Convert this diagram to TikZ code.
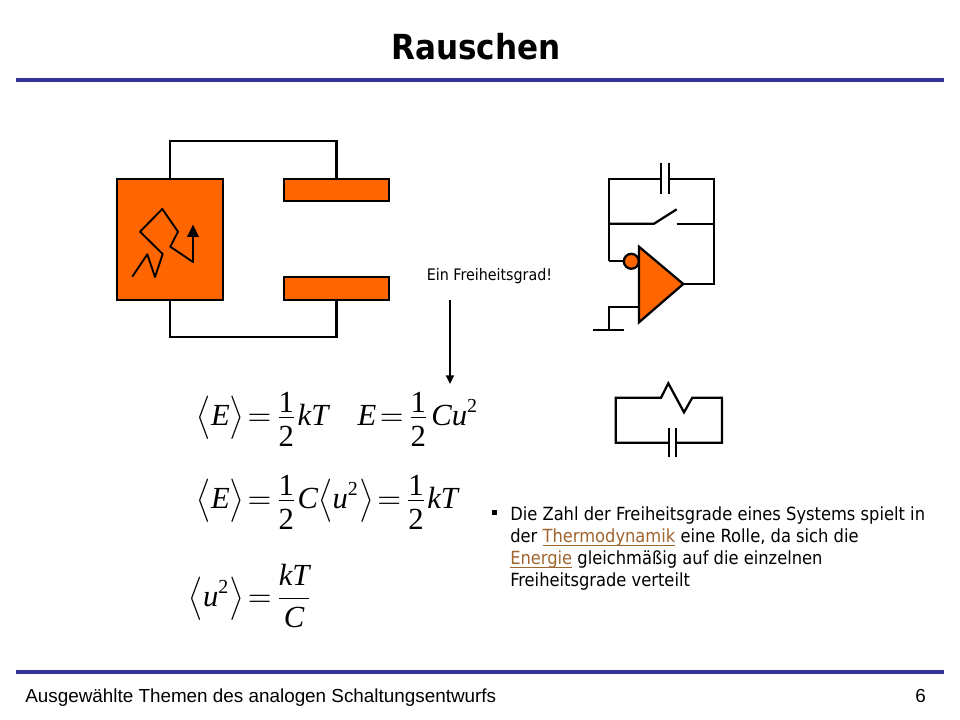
\documentclass[tikz,border=0pt]{standalone}
\usepackage{fontspec}
\usepackage{amsmath}
\usepackage{graphicx}
\setmainfont{Liberation Sans}
\newfontfamily\tahomalike{DejaVu Sans Condensed}
\newfontfamily\mathserif{Liberation Serif}
\usetikzlibrary{arrows.meta}
\definecolor{rulecol}{HTML}{333399}
\definecolor{fillor}{HTML}{FF6600}
\definecolor{linkcol}{HTML}{A0652F}
\newcommand{\mi}[1]{\mbox{\mathserif\fontsize{10}{12}\selectfont\itshape #1}}
\newcommand{\mr}[1]{\mbox{\mathserif\fontsize{10}{12}\selectfont #1}}
\newcommand{\sq}{^{\mbox{\mathserif\fontsize{6.5}{7}\selectfont 2}}}
\newcommand{\half}{{\textstyle\frac{\mr{1}}{\rule{0pt}{9pt}\mr{2}}}}
\newcommand{\lb}{\mathopen{\vcenter{\hbox{\scalebox{1}[1.18]{$\big\langle$}}}}}
\newcommand{\rb}{\mathclose{\vcenter{\hbox{\scalebox{1}[1.18]{$\big\rangle$}}}}}
\newcommand{\lnk}[1]{\textcolor{linkcol}{\underline{\smash{#1}}}}
\tikzset{
  wire/.style={draw=black,line width=1.7pt,line join=miter},
  thinwire/.style={draw=black,line width=1.4pt,line join=round},
  block/.style={draw=black,fill=fillor,line width=1.7pt,inner sep=0pt,outer sep=0pt},
  rulebar/.style={draw=rulecol,line width=3pt},
  eq/.style={anchor=base west,inner sep=0pt,scale=2.3},
  body/.style={font=\tahomalike\fontsize{13.6}{16.7}\selectfont,inner sep=0pt},
}
\begin{document}
\thickmuskip=2mu
\begin{tikzpicture}[x=0.75pt,y=-0.75pt]
\useasboundingbox (0,0) rectangle (960,720);
% title and rules
\node[inner sep=0pt,font=\tahomalike\bfseries\fontsize{25.9}{30}\selectfont] (title) at (476,47) {Rauschen};
\coordinate (r1a) at (16,80); \coordinate (r1b) at (944,80);
\coordinate (r2a) at (16,672); \coordinate (r2b) at (944,672);
\draw[rulebar] (r1a) -- (r1b);
\draw[rulebar] (r2a) -- (r2b);
\node[anchor=base west,inner sep=0pt,font=\fontsize{14.15}{16}\selectfont] (foot) at (25,702) {Ausgewählte Themen des analogen Schaltungsentwurfs};
\node[anchor=base east,inner sep=0pt,font=\fontsize{14.15}{16}\selectfont] (pagenum) at (926,702) {6};
% left block
\node[block,minimum width=79.5pt,minimum height=90.75pt] (box) at (170,239.5) {};
\node[block,minimum width=78.75pt,minimum height=16.5pt] (plateA) at (336.5,190) {};
\node[block,minimum width=78.75pt,minimum height=17.25pt] (plateB) at (336.5,288.5) {};
\draw[wire] (box.north) |- (plateA.north |- 0,141) -- (plateA.north);
\draw[wire] (box.south) |- (plateB.south |- 0,337) -- (plateB.south);
\coordinate (z1) at (132.3,276.7); \coordinate (z2) at (147.3,254.3);
\coordinate (z3) at (155,277); \coordinate (z4) at (162.7,254);
\coordinate (z5) at (140,231.7); \coordinate (z6) at (162.3,209);
\coordinate (z7) at (178,231.7); \coordinate (z8) at (170.3,246.7);
\coordinate (z9) at (193,262); \coordinate (z10) at (193,237);
\coordinate (zt) at (193,224.5); \coordinate (zl) at (187,237); \coordinate (zr) at (199,237);
\draw[thinwire] (z1)--(z2)--(z3)--(z4)--(z5)--(z6)--(z7)--(z8)--(z9)--(z10);
\fill[black] (zt)--(zl)--(zr)--cycle;
% label and arrow
\node[inner sep=0pt,font=\tahomalike\fontsize{11.9}{14}\selectfont] (fg) at (489.5,276) {Ein Freiheitsgrad!};
\coordinate (aS) at (450,300); \coordinate (aE) at (450,384);
\draw[draw=black,line width=1.4pt,-{Triangle[length=6.5pt,width=6pt]}] (aS) -- (aE);
% integrator
\coordinate (tl) at (609,179); \coordinate (tr) at (714,179);
\coordinate (c1a) at (661,163.3); \coordinate (c1b) at (661,193.7);
\coordinate (c2a) at (669,163.3); \coordinate (c2b) at (669,193.7);
\draw[wire] (c1a)--(c1b); \draw[wire] (c2a)--(c2b);
\coordinate (cm1) at (661,179); \coordinate (cm2) at (669,179);
\coordinate (inv) at (609,261.3);
\coordinate (oa1) at (639,246.7); \coordinate (oa2) at (639,322.3); \coordinate (oa3) at (683.3,284);
\coordinate (outr) at (714,284);
\draw[wire] (cm1)--(tl)--(inv);
\draw[wire] (cm2)--(tr)--(outr)--(oa3);
\coordinate (sw1) at (609,223.7); \coordinate (sw2) at (654,223.7);
\coordinate (sw3) at (676.7,209.3); \coordinate (sw4) at (676.7,223.7); \coordinate (sw5) at (714,223.7);
\draw[wire] (sw1)--(sw2)--(sw3);
\draw[wire] (sw4)--(sw5);
\draw[block] (oa1)--(oa2)--(oa3)--cycle;
\node[block,circle,minimum size=11.2pt] (bub) at (631.3,261.3) {};
\draw[wire] (inv)--(bub.west);
\coordinate (g1) at (639,306.7); \coordinate (g2) at (609,306.7); \coordinate (g3) at (609,330);
\coordinate (g4) at (593.3,330); \coordinate (g5) at (623.7,330);
\draw[wire] (g1)--(g2)--(g3);
\draw[wire] (g4)--(g5);
% RC
\coordinate (q1) at (669,442.7); \coordinate (q2) at (615.7,442.7); \coordinate (q3) at (615.7,397.7);
\coordinate (q4) at (661,397.7); \coordinate (q5) at (668.3,383.3); \coordinate (q6) at (684,412.3);
\coordinate (q7) at (692.3,397.7); \coordinate (q8) at (722,397.7); \coordinate (q9) at (722,442.7);
\coordinate (q10) at (676.3,442.7);
\draw[wire] (q1)--(q2)--(q3)--(q4)--(q5)--(q6)--(q7)--(q8)--(q9)--(q10);
\coordinate (p1a) at (669,428.3); \coordinate (p1b) at (669,457.3);
\coordinate (p2a) at (676.3,428.3); \coordinate (p2b) at (676.3,457.3);
\draw[wire] (p1a)--(p1b); \draw[wire] (p2a)--(p2b);
% equations
\node[eq] (e1) at (196,425) {$\displaystyle\lb\mi{E}\rb=\half\mi{kT}$};
\node[eq] (e2) at (357,425) {$\displaystyle\mi{E}=\half\mkern1mu\mi{Cu}\sq$};
\node[eq] (e3) at (196,508) {$\displaystyle\lb\mi{E}\rb=\half\mi{C}\lb\mi{u}\sq\rb=\half\mi{kT}$};
\node[eq] (e4) at (188,606) {$\displaystyle\lb\mi{u}\sq\rb=\frac{\mi{kT}}{\mi{C}}$};
% bullet text
\coordinate (bl) at (494,512);
\fill[black] ([shift={(-2.5,-2.5)}]bl) rectangle ([shift={(2.5,2.5)}]bl);
\node[body,anchor=north west,align=left] (txt) at (510,506) {Die Zahl der Freiheitsgrade eines Systems spielt in\\der \lnk{Thermodynamik} eine Rolle, da sich die\\\lnk{Energie} gleichmäßig auf die einzelnen\\Freiheitsgrade verteilt};
\end{tikzpicture}
\end{document}
